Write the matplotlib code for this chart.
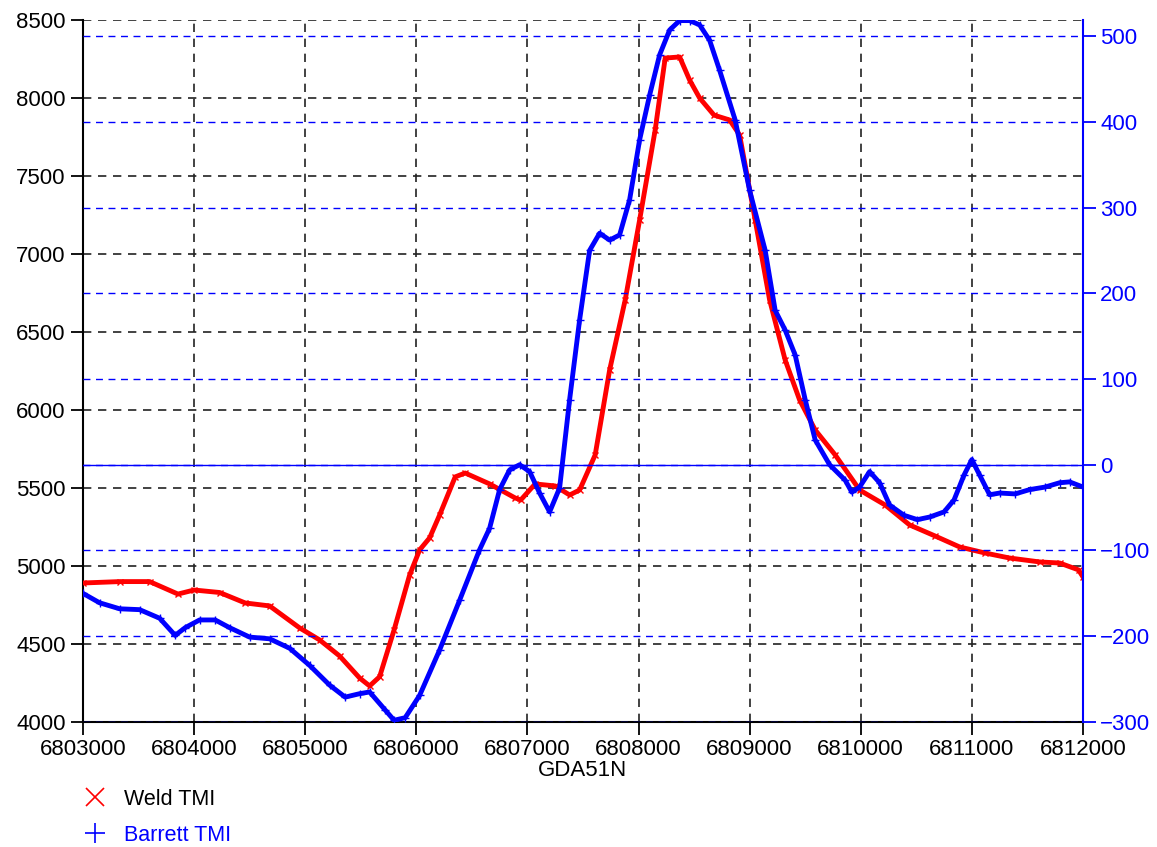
import matplotlib
matplotlib.use("Agg")
import matplotlib.pyplot as plt
import numpy as np

plt.rcParams['font.family'] = ['Liberation Sans', 'DejaVu Sans']

# Weld TMI (left axis)
weld_x = [6803000, 6803333, 6803600, 6803855, 6804000, 6804230, 6804460, 6804680,
          6804950, 6805130, 6805310, 6805490, 6805580, 6805670, 6805800, 6805940,
          6806030, 6806120, 6806210, 6806350, 6806440, 6806660, 6806890, 6806940,
          6807070, 6807250, 6807380, 6807470, 6807610, 6807740, 6807880, 6808010,
          6808150, 6808240, 6808370, 6808460, 6808550, 6808680, 6808820, 6808910,
          6809050, 6809180, 6809320, 6809450, 6809590, 6809770, 6809990, 6810220,
          6810440, 6810670, 6810890, 6811120, 6811340, 6811610, 6811790, 6811960,
          6812000]
weld_y = [4891, 4900, 4900, 4820, 4846, 4830, 4763, 4744,
          4603, 4526, 4423, 4282, 4231, 4290, 4590, 4942,
          5103, 5180, 5327, 5571, 5596, 5526, 5436, 5423,
          5526, 5513, 5455, 5487, 5712, 6256, 6705, 7218,
          7795, 8256, 8263, 8115, 8000, 7890, 7859, 7763,
          7218, 6705, 6320, 6064, 5872, 5712, 5487, 5391,
          5263, 5192, 5122, 5083, 5051, 5026, 5019, 4975,
          4930]

# Barrett TMI (right axis)
barrett_x = [6803000, 6803150, 6803330, 6803510, 6803690, 6803830, 6803920, 6804050,
             6804190, 6804320, 6804500, 6804680, 6804860, 6805040, 6805220, 6805360,
             6805490, 6805580, 6805720, 6805800, 6805900, 6806030, 6806210, 6806390,
             6806570, 6806660, 6806750, 6806840, 6806930, 6807020, 6807110, 6807200,
             6807290, 6807380, 6807470, 6807560, 6807650, 6807740, 6807830, 6807920,
             6808010, 6808100, 6808190, 6808280, 6808370, 6808460, 6808550, 6808640,
             6808730, 6808870, 6809000, 6809140, 6809230, 6809320, 6809410, 6809500,
             6809590, 6809720, 6809860, 6809920, 6809990, 6810080, 6810170, 6810260,
             6810390, 6810510, 6810620, 6810750, 6810840, 6810930, 6811000, 6811070,
             6811160, 6811250, 6811390, 6811520, 6811660, 6811790, 6811880, 6812000]
barrett_y = [-150, -161, -168, -169, -179, -199, -190, -181,
             -181, -190, -201, -203, -214, -234, -257, -271,
             -267, -265, -286, -298, -295, -269, -216, -158,
             -99, -74, -29, -6, 0, -8, -33, -55,
             -27, 76, 169, 250, 270, 262, 268, 309,
             379, 431, 478, 507, 518, 518, 513, 495,
             460, 402, 320, 250, 180, 157, 128, 76,
             29, 0, -18, -32, -26, -8, -21, -47,
             -59, -64, -61, -55, -41, -12, 6, -12,
             -35, -33, -34, -29, -26, -21, -20, -26]

x_ticks = np.arange(6803000, 6812001, 1000)
left_ticks = np.arange(4000, 8501, 500)
right_ticks = np.arange(-300, 501, 100)

fig = plt.figure(figsize=(11.57, 8.47), dpi=100)
ax = fig.add_axes([0.0717, 0.1476, 0.8643, 0.8288])
ax2 = ax.twinx()

ax.set_xlim(6803000, 6812000)
ax.set_ylim(4000, 8500)
ax2.set_ylim(-300, 518.7)

ax.set_xticks(x_ticks)
ax.set_xticklabels([str(v) for v in x_ticks])
ax.set_yticks(left_ticks)
ax2.set_yticks(right_ticks)

# grids
for v in left_ticks:
    ax.axhline(v, color='#222222', ls=(0, (5, 4)), lw=1.2, zorder=1)
for v in x_ticks:
    ax.axvline(v, color='#222222', ls=(0, (5, 4)), lw=1.2, zorder=1)
for v in right_ticks:
    ax2.axhline(v, color='blue', ls=(0, (5, 4)), lw=1.0, zorder=1)
ax2.axhline(0, color='blue', lw=1.0, zorder=1)

ax.plot(weld_x, weld_y, color='red', lw=3.5, marker='x', ms=5, mew=1, zorder=3)
ax2.plot(barrett_x, barrett_y, color='blue', lw=3.5, marker='+', ms=6, mew=1, zorder=4)

ax.spines['top'].set_visible(False)
ax2.spines['top'].set_visible(False)
ax.spines['right'].set_visible(False)
ax2.spines['left'].set_visible(False)
ax2.spines['bottom'].set_visible(False)
ax2.spines['right'].set_color('blue')
ax2.spines['right'].set_linewidth(1.5)
ax.spines['left'].set_linewidth(1.5)
ax.spines['bottom'].set_linewidth(1.5)

ax.tick_params(axis='both', direction='out', length=9, width=1.3, labelsize=16, colors='black')
ax2.tick_params(axis='y', direction='out', length=9, width=1.3, labelsize=16,
                colors='blue', labelcolor='blue')
ax.set_xlabel('GDA51N', fontsize=16, labelpad=0)

# legend below the plot
h1, = ax.plot([], [], ls='none', marker='x', color='red', ms=13, mew=1.2)
h2, = ax.plot([], [], ls='none', marker='+', color='blue', ms=15, mew=1.2)
leg = fig.legend([h1, h2], ['Weld TMI', 'Barrett TMI'], loc='upper left',
                 bbox_to_anchor=(0.065, 0.079), frameon=False, fontsize=15.5,
                 handlelength=1.0, handletextpad=0.85, labelspacing=0.7,
                 borderaxespad=0)
leg.get_texts()[0].set_color('black')
leg.get_texts()[1].set_color('blue')

fig.savefig('out.png', dpi=100)
